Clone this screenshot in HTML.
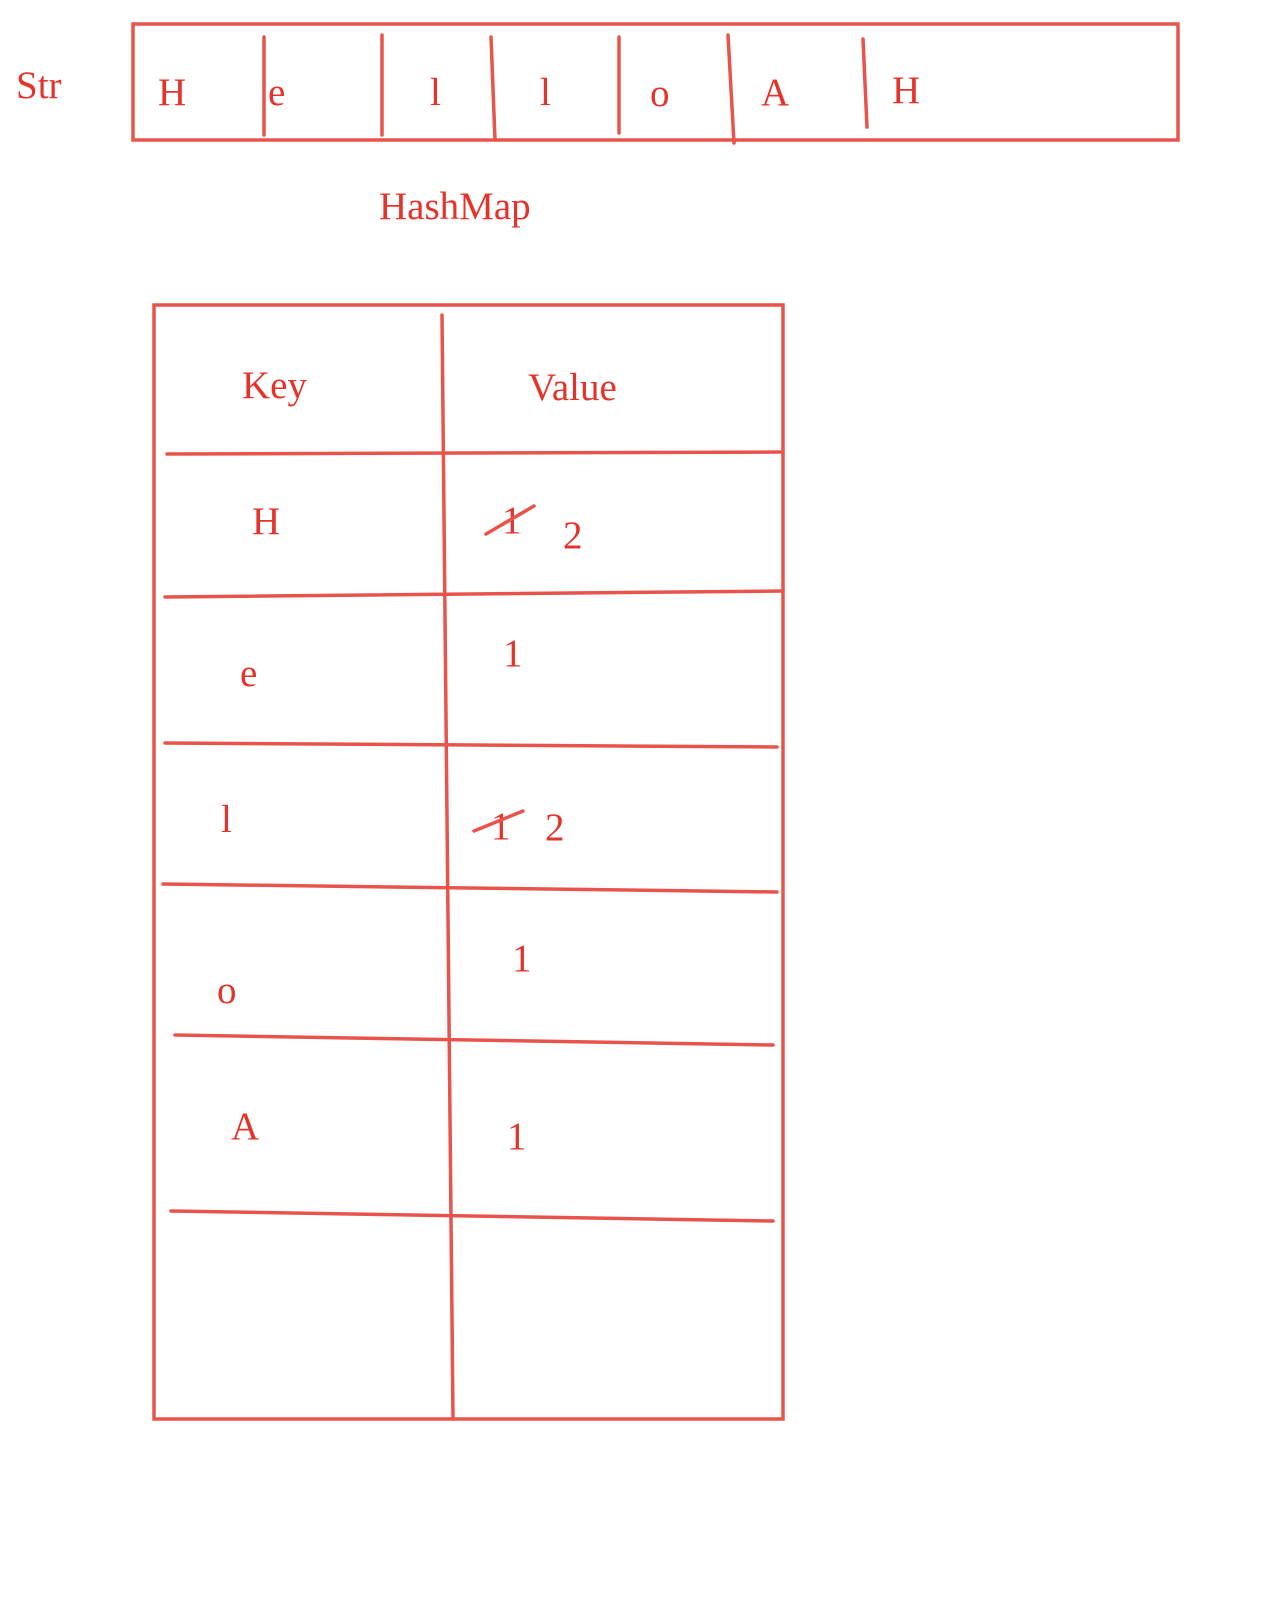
<!DOCTYPE html>
<html><head><meta charset="utf-8"><style>
html,body{margin:0;padding:0;background:#fff;}
svg{display:block;}
text{font-family:"Liberation Serif",serif;font-size:39px;fill:#e3342c;}
line,rect,polyline{stroke:#e8544b;stroke-width:3.5;fill:none;stroke-linecap:round;}
</style></head><body>
<svg width="1262" height="1602" viewBox="0 0 1262 1602">
<text x="16" y="98">Str</text>
<g>
<rect x="133" y="24" width="1045" height="116"/>
<line x1="264" y1="37" x2="264" y2="135"/>
<line x1="382" y1="35" x2="382" y2="135"/>
<line x1="491" y1="37" x2="495" y2="140"/>
<line x1="619" y1="37" x2="619" y2="133"/>
<line x1="728" y1="35" x2="734" y2="143"/>
<line x1="863" y1="39" x2="867" y2="127"/>
<text x="158" y="105">H</text>
<text x="268" y="105">e</text>
<text x="430" y="105">l</text>
<text x="540" y="105">l</text>
<text x="650" y="106">o</text>
<text x="761" y="105">A</text>
<text x="892" y="103">H</text>
</g>
<text x="379" y="219">HashMap</text>
<g>
<rect x="154" y="305" width="629" height="1114"/>
<line x1="442" y1="315" x2="453" y2="1419"/>
<line x1="167" y1="454" x2="783" y2="452"/>
<line x1="165" y1="597" x2="783" y2="591"/>
<line x1="165" y1="743" x2="777" y2="747"/>
<line x1="163" y1="884" x2="777" y2="892"/>
<line x1="175" y1="1035" x2="773" y2="1045"/>
<line x1="171" y1="1211" x2="773" y2="1221"/>
<text x="242" y="398">Key</text>
<text x="528" y="400">Value</text>
<text x="252" y="534">H</text>
<text x="502" y="533">1</text>
<line x1="486" y1="534" x2="534" y2="506"/>
<text x="563" y="548">2</text>
<text x="240" y="686">e</text>
<text x="503" y="666">1</text>
<text x="221" y="832">l</text>
<text x="491" y="839">1</text>
<line x1="474" y1="831" x2="523" y2="811"/>
<text x="545" y="840">2</text>
<text x="217" y="1003">o</text>
<text x="512" y="971">1</text>
<text x="231" y="1139">A</text>
<text x="507" y="1149">1</text>
</g>
</svg>
</body></html>
